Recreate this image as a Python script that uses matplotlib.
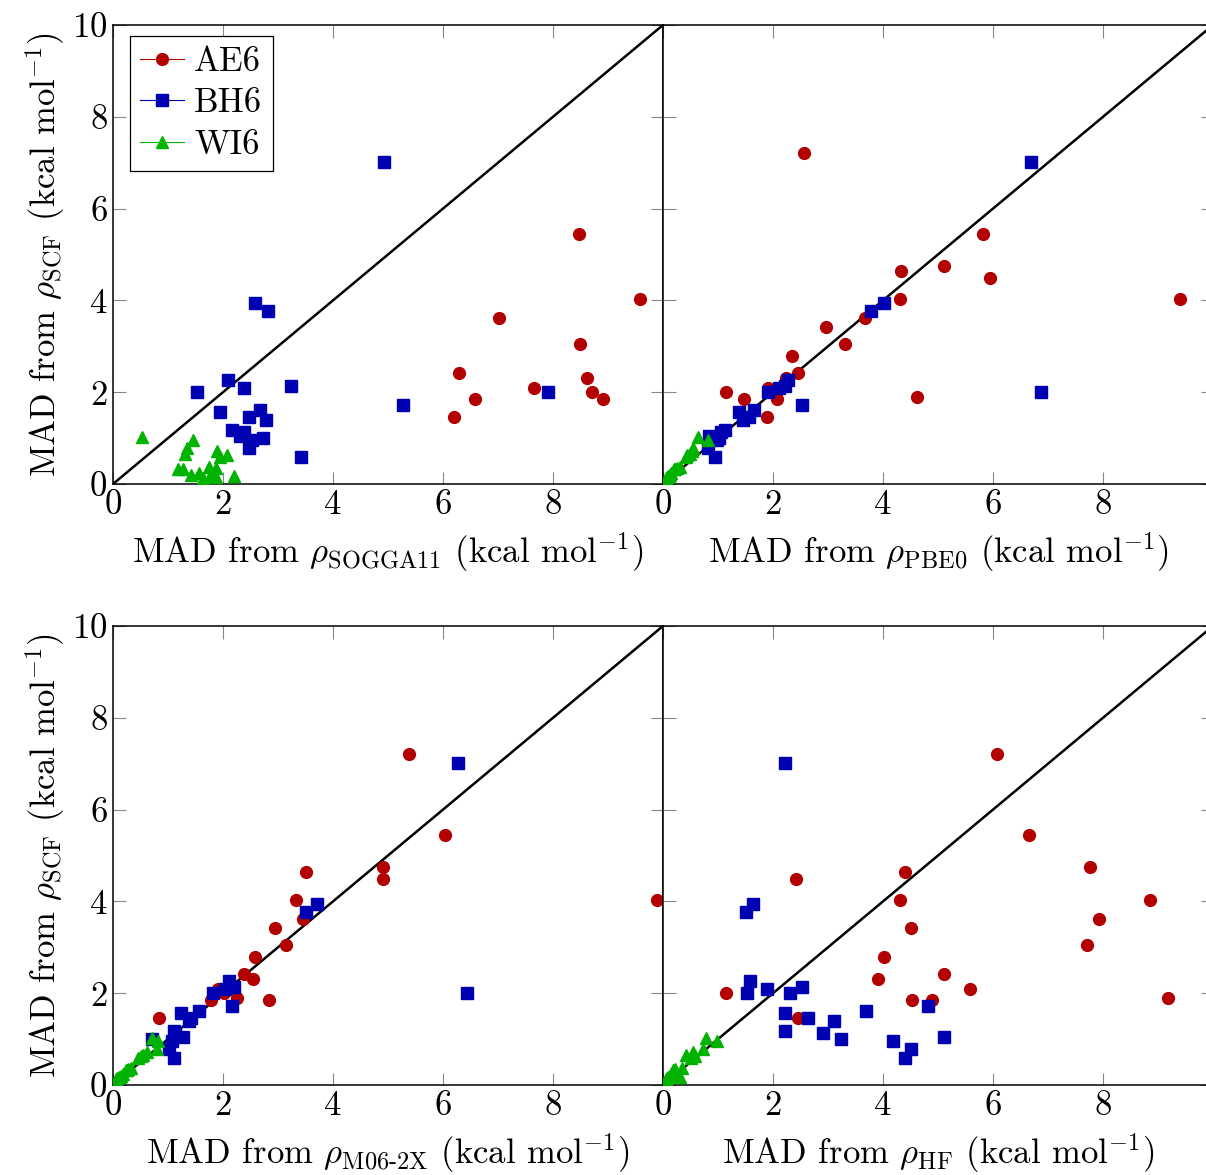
import numpy as np
import matplotlib
matplotlib.use("Agg")
import matplotlib.pyplot as plt
from matplotlib.lines import Line2D

plt.rcParams['font.family'] = 'cmr10'
plt.rcParams['mathtext.fontset'] = 'cm'
plt.rcParams['axes.formatter.use_mathtext'] = True

nan = np.nan

# ── y values: MAD from rho_SCF (shared by all panels) ────────────────────────
y_ae6 = [7.22, 5.45, 4.76, 4.64, 4.49, 4.03, 4.03, 3.61, 3.43, 3.05,
         2.78, 2.42, 2.32, 2.10, 2.01, 1.90, 1.85, 1.85, 1.46]
y_bh6 = [7.02, 3.95, 3.76, 2.27, 2.13, 2.10, 2.01, 2.00, 1.72, 1.62,
         1.56, 1.45, 1.39, 1.17, 1.14, 1.05, 1.00, 0.95, 0.79, 0.59]
y_wi6 = [1.03, 0.95, 0.78, 0.72, 0.65, 0.63, 0.59, 0.38, 0.34, 0.32,
         0.32, 0.24, 0.20, 0.17, 0.17, 0.15, 0.12]

# ── x values per panel (nan = off the visible range) ─────────────────────────
x_ae6_sogga = [nan, 8.47, nan, nan, nan, 9.58, nan, 7.02, nan, 8.49,
               nan, 6.29, 8.62, 7.65, 8.71, nan, 6.58, 8.91, 6.20]
x_ae6_pbe0 = [2.57, 5.81, 5.10, 4.33, 5.95, 4.30, 9.40, 3.67, 2.97, 3.30,
              2.35, 2.45, 2.24, 1.91, 1.14, 4.62, 1.48, 2.07, 1.89]
x_ae6_m06 = [5.38, 6.04, 4.91, 3.51, 4.91, 3.33, 9.89, 3.45, 2.95, 3.14,
             2.59, 2.39, 2.54, 1.90, 2.01, 2.25, 1.78, 2.84, 0.84]
x_ae6_hf = [6.07, 6.66, 7.76, 4.40, 2.41, 4.30, 8.85, 7.93, 4.51, 7.70,
            4.02, 5.10, 3.90, 5.59, 1.15, 9.19, 4.52, 4.89, 2.45]

x_bh6_sogga = [4.93, 2.59, 2.81, 2.09, 3.24, 2.38, 7.90, 1.52, 5.28, 2.67,
               1.95, 2.48, 2.79, 2.16, 2.38, 2.31, 2.72, 2.53, 2.48, 3.42]
x_bh6_pbe0 = [6.69, 4.02, 3.78, 2.27, 2.22, 2.11, 6.88, 1.91, 2.53, 1.65,
              1.39, 1.57, 1.45, 1.13, 1.05, 0.84, 1.01, 0.98, 0.81, 0.95]
x_bh6_m06 = [6.28, 3.70, 3.50, 2.11, 2.20, 2.04, 6.44, 1.81, 2.17, 1.56,
             1.23, 1.41, 1.38, 1.11, 1.12, 1.28, 0.70, 1.07, 1.02, 1.10]
x_bh6_hf = [2.22, 1.64, 1.50, 1.58, 2.53, 1.89, 2.31, 1.52, 4.82, 3.69,
            2.21, 2.63, 3.11, 2.21, 2.90, 5.10, 3.24, 4.19, 4.51, 4.40]

x_wi6_sogga = [0.53, 1.45, 1.34, 1.89, 1.30, 2.07, 1.95, 1.74, 1.87, 1.19,
               1.27, 1.57, 1.41, 1.76, 2.20, 1.87, 1.64]
x_wi6_pbe0 = [0.64, 0.81, 0.55, 0.52, 0.49, 0.44, 0.42, 0.30, 0.25, 0.22,
              0.20, 0.15, 0.12, 0.10, 0.09, 0.08, 0.06]
x_wi6_m06 = [0.70, 0.82, 0.80, 0.62, 0.55, 0.50, 0.46, 0.33, 0.28, 0.25,
             0.23, 0.18, 0.15, 0.12, 0.10, 0.08, 0.05]
x_wi6_hf = [0.78, 0.98, 0.72, 0.55, 0.42, 0.58, 0.50, 0.34, 0.22, 0.20,
            0.18, 0.15, 0.12, 0.31, 0.09, 0.08, 0.05]

panel_names = [r'SOGGA11', r'PBE0', r'M06\text{-}2X', r'HF']
x_ae6 = [x_ae6_sogga, x_ae6_pbe0, x_ae6_m06, x_ae6_hf]
x_bh6 = [x_bh6_sogga, x_bh6_pbe0, x_bh6_m06, x_bh6_hf]
x_wi6 = [x_wi6_sogga, x_wi6_pbe0, x_wi6_m06, x_wi6_hf]

red, blue, green = '#B30000', '#0000B3', '#00B300'
FS = 25

W, H = 1206, 1175
fig = plt.figure(figsize=(W / 100, H / 100), dpi=100)

# panel boxes in pixels: left, top, width, height
boxes = [(113, 25), (663, 25), (113, 626), (663, 626)]
pw, ph = 550, 459

for i, (left, top) in enumerate(boxes):
    ax = fig.add_axes([left / W, 1 - (top + ph) / H, pw / W, ph / H])
    ax.plot([0, 10], [0, 10], color='black', lw=1.8, zorder=2)
    ax.plot(x_ae6[i], y_ae6, ls='none', marker='o', ms=8.5, color=red, zorder=3)
    ax.plot(x_bh6[i], y_bh6, ls='none', marker='s', ms=8, color=blue, zorder=3)
    ax.plot(x_wi6[i], y_wi6, ls='none', marker='^', ms=8, color=green, zorder=3)

    ax.set_xlim(0, 10)
    ax.set_ylim(0, 10)
    ax.set_xticks([0, 2, 4, 6, 8, 10])
    ax.set_xticklabels(['0', '2', '4', '6', '8', ''])
    ax.set_yticks([0, 2, 4, 6, 8, 10])
    if i % 2 == 0:
        ax.set_ylabel(r'MAD from $\rho_{\mathrm{SCF}}$ (kcal mol$^{-1}$)',
                      fontsize=FS, labelpad=4)
    else:
        ax.set_yticklabels([])
    ax.set_xlabel(r'MAD from $\rho_{\mathrm{%s}}$ (kcal mol$^{-1}$)' % panel_names[i],
                  fontsize=FS, labelpad=7)
    ax.tick_params(direction='in', top=True, right=True, length=9, width=0.8,
                   color='#888888', labelcolor='black', labelsize=FS, pad=4)
    for sp in ax.spines.values():
        sp.set_linewidth(1.1)

    if i == 0:
        handles = [Line2D([], [], color=red, marker='o', ms=8.5, lw=0.8),
                   Line2D([], [], color=blue, marker='s', ms=8, lw=0.8),
                   Line2D([], [], color=green, marker='^', ms=8, lw=0.8)]
        leg = ax.legend(handles, ['AE6', 'BH6', 'WI6'], loc='upper left',
                        bbox_to_anchor=(0.031, 0.976), borderaxespad=0,
                        fontsize=FS, numpoints=1, handlelength=1.25,
                        handletextpad=0.3, labelspacing=0.28,
                        fancybox=False, framealpha=1, edgecolor='black',
                        borderpad=0.3)
        leg.get_frame().set_linewidth(0.9)

plt.savefig('out.png', dpi=100)
